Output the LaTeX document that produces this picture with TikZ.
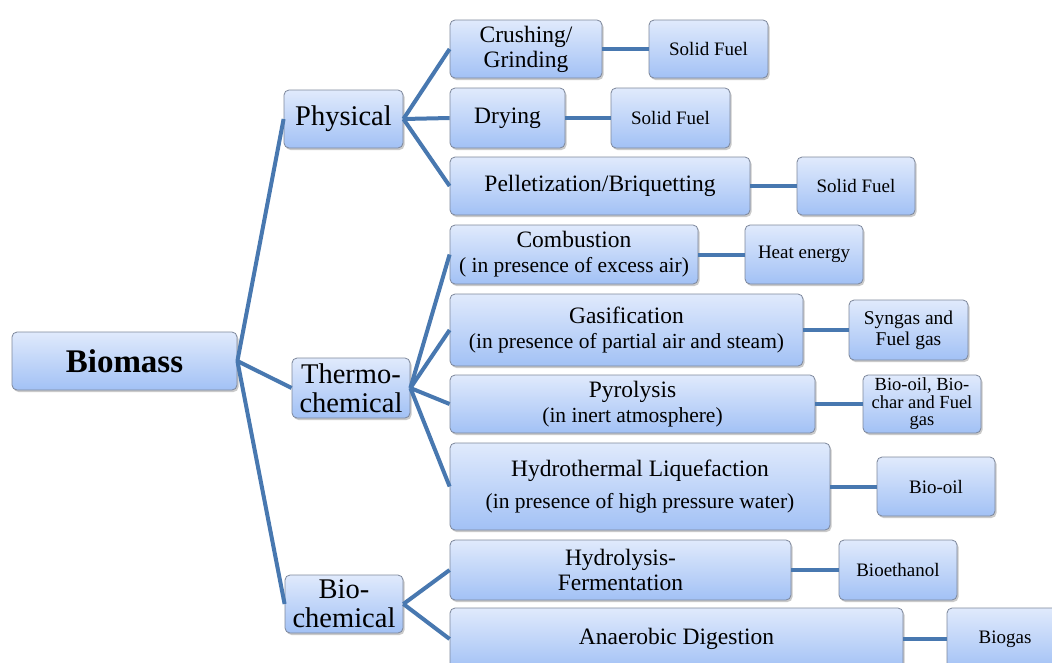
\documentclass[tikz,border=0pt]{standalone}
\usepackage{fontspec}
\setmainfont{Liberation Serif}
\usetikzlibrary{shadows}
\definecolor{boxtop}{RGB}{224,234,252}
\definecolor{boxbot}{RGB}{162,193,245}
\definecolor{boxline}{RGB}{125,135,155}
\definecolor{conn}{RGB}{72,120,176}
\newcommand{\subl}[1]{{\fontsize{21.5}{25}\selectfont #1}}
\tikzset{
  box/.style={draw=boxline, line width=0.8pt, rounded corners=5pt,
    top color=boxtop, bottom color=boxbot, align=center, inner sep=0pt,
    drop shadow={shadow xshift=1.5pt, shadow yshift=-2pt, opacity=0.35, fill=black!60}},
  mid/.style={box, font=\fontsize{23.5}{25}\selectfont},
  res/.style={box, font=\fontsize{19}{21}\selectfont},
  lvl/.style={box, font=\fontsize{28.5}{29}\selectfont},
  conn/.style={draw=conn, line width=4pt},
}
\begin{document}
\begin{tikzpicture}[x=1pt,y=-1pt]
\useasboundingbox (0,0) rectangle (1052,662);
\clip (0,0) rectangle (1052,662);
% root
\node[box, font=\fontsize{33}{34}\selectfont\bfseries, minimum width=225pt, minimum height=58pt] (bio) at (124.5,361) {Biomass};
% level 1
\node[lvl, minimum width=119pt, minimum height=58pt] (phy) at (343.5,119) {Physical};
\node[lvl, minimum width=118pt, minimum height=60pt] (thc) at (351,388) {Thermo-\\chemical};
\node[lvl, minimum width=118pt, minimum height=58pt] (bch) at (344,604) {Bio-\\chemical};
% physical
\node[mid, minimum width=152pt, minimum height=58pt] (cru) at (526,49) {Crushing/\\Grinding};
\node[res, minimum width=119pt, minimum height=58pt] (sf1) at (708.5,49) {Solid Fuel};
\node[mid, minimum width=115pt, minimum height=60pt] (dry) at (507.5,118) {\raisebox{5pt}{Drying}};
\node[res, minimum width=119pt, minimum height=60pt] (sf2) at (670.5,118) {Solid Fuel};
\node[mid, minimum width=300pt, minimum height=58pt] (pel) at (600,186) {Pelletization/Briquetting};
\node[res, minimum width=118pt, minimum height=58pt] (sf3) at (856,186) {Solid Fuel};
% thermochemical
\node[mid, minimum width=248pt, minimum height=59pt] (com) at (574,254.5) {Combustion\\\subl{( in presence of excess air)}};
\node[res, minimum width=118pt, minimum height=59pt] (hea) at (804,254.5) {Heat energy};
\node[mid, minimum width=353pt, minimum height=72pt] (gas) at (626.5,330) {Gasification\\\subl{(in presence of partial air and steam)}};
\node[box, font=\fontsize{19.5}{21}\selectfont, minimum width=119pt, minimum height=60pt] (syn) at (908.5,330) {Syngas and\\Fuel gas};
\node[mid, minimum width=365pt, minimum height=58pt] (pyr) at (632.5,404) {Pyrolysis\\\subl{(in inert atmosphere)}};
\node[box, font=\fontsize{18.5}{17.5}\selectfont, minimum width=118pt, minimum height=58pt] (boc) at (922,404) {Bio-oil, Bio-\\char and Fuel\\gas};
\node[mid, minimum width=380pt, minimum height=87pt] (htl) at (640,486.5) {Hydrothermal Liquefaction\\[7pt]\subl{(in presence of high pressure water)}};
\node[res, minimum width=118pt, minimum height=59pt] (boi) at (936,486.5) {Bio-oil};
% biochemical
\node[mid, minimum width=341pt, minimum height=60pt] (hyd) at (620.5,570) {Hydrolysis-\\Fermentation};
\node[res, minimum width=118pt, minimum height=60pt] (eth) at (898,570) {Bioethanol};
\node[mid, minimum width=453pt, minimum height=62pt] (ana) at (676.5,639) {Anaerobic Digestion};
\node[res, minimum width=116pt, minimum height=62pt] (bgs) at (1005,639) {Biogas};
% connectors
\draw[conn] (bio.east) -- (phy.west);
\draw[conn] (bio.east) -- (thc.west);
\draw[conn] (bio.east) -- (bch.west);
\draw[conn] (phy.east) -- (cru.west);
\draw[conn] (phy.east) -- (dry.west);
\draw[conn] (phy.east) -- (pel.west);
\draw[conn] (thc.east) -- (com.west);
\draw[conn] (thc.east) -- (gas.west);
\draw[conn] (thc.east) -- (pyr.west);
\draw[conn] (thc.east) -- (htl.west);
\draw[conn] (bch.east) -- (hyd.west);
\draw[conn] (bch.east) -- (ana.west);
\draw[conn] (cru.east) -- (sf1.west);
\draw[conn] (dry.east) -- (sf2.west);
\draw[conn] (pel.east) -- (sf3.west);
\draw[conn] (com.east) -- (hea.west);
\draw[conn] (gas.east) -- (syn.west);
\draw[conn] (pyr.east) -- (boc.west);
\draw[conn] (htl.east) -- (boi.west);
\draw[conn] (hyd.east) -- (eth.west);
\draw[conn] (ana.east) -- (bgs.west);
\end{tikzpicture}
\end{document}
